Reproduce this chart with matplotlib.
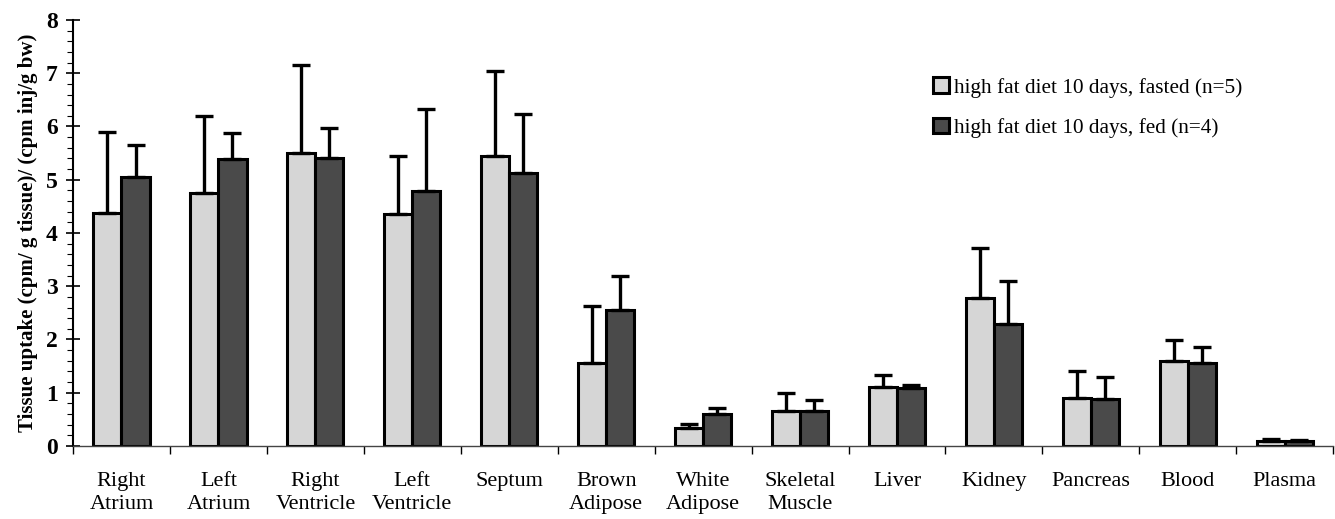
import matplotlib.pyplot as plt
import numpy as np

# --- DATA --------------------------- #
tissues = ["Right\nAtrium", "Left\nAtrium", "Right\nVentricle", "Left\nVentricle", "Septum",
           "Brown\nAdipose", "White\nAdipose", "Skeletal\nMuscle", "Liver", "Kidney",
           "Pancreas", "Blood", "Plasma"]
fasted = [4.38, 4.76, 5.50, 4.35, 5.45, 1.56, 0.33, 0.66, 1.11, 2.77, 0.91, 1.60, 0.10]
fasted_err = [1.52, 1.44, 1.65, 1.10, 1.60, 1.07, 0.09, 0.34, 0.22, 0.94, 0.49, 0.39, 0.03]
fed = [5.05, 5.39, 5.40, 4.79, 5.12, 2.55, 0.60, 0.66, 1.09, 2.30, 0.88, 1.56, 0.10]
fed_err = [0.60, 0.49, 0.57, 1.54, 1.11, 0.64, 0.11, 0.20, 0.06, 0.80, 0.41, 0.29, 0.02]
labels = ["high fat diet 10 days, fasted (n=5)", "high fat diet 10 days, fed (n=4)"]
# ------------------------------------ #

plt.rcParams['font.family'] = ['Liberation Serif', 'DejaVu Serif']

fig = plt.figure(figsize=(13.35, 5.19), dpi=100)
ax = fig.add_axes([0.0547, 0.1407, 0.944, 0.8208])

x = np.arange(len(tissues))
w = 0.29
err_kw = dict(ecolor="black", elinewidth=2.4, capsize=6.5, capthick=2.4)
ax.bar(x - w/2, fasted, w, yerr=[np.zeros(len(x)), fasted_err], color="#d6d6d6",
       edgecolor="black", linewidth=2.2, error_kw=err_kw, label=labels[0], zorder=2)
ax.bar(x + w/2, fed, w, yerr=[np.zeros(len(x)), fed_err], color="#4a4a4a",
       edgecolor="black", linewidth=2.2, error_kw=err_kw, label=labels[1], zorder=2)

# --- AXES --------------------------- #
ax.set_xlim(-0.5, len(tissues) - 0.5)
ax.set_ylim(0, 8)
ax.spines["top"].set_visible(False)
ax.spines["right"].set_visible(False)
ax.spines["left"].set_linewidth(1.5)
ax.spines["bottom"].set_linewidth(1.0)
ax.spines["bottom"].set_color("#444444")

ax.set_xticks(x)
ax.set_xticklabels(tissues, fontsize=16, linespacing=1.25)
ax.tick_params(axis="x", which="major", length=0, pad=19)
ax.set_xticks(np.arange(-0.5, len(tissues), 1.0), minor=True)
ax.tick_params(axis="x", which="minor", length=6, width=1, direction="out")

ax.set_yticks(np.arange(0, 9, 1))
ax.set_yticks(np.arange(0, 8.01, 0.2), minor=True)
ax.tick_params(axis="y", which="major", length=10, width=1.2, direction="inout", labelsize=17, pad=6)
ax.tick_params(axis="y", which="minor", length=4, width=0.8, direction="out")
for t in ax.get_yticklabels():
    t.set_fontweight("bold")
ax.set_ylabel("Tissue uptake (cpm/ g tissue)/ (cpm inj/g bw)", fontsize=15, fontweight="bold", labelpad=6)

ax.legend(loc="upper left", bbox_to_anchor=(0.676, 0.885), frameon=False, fontsize=15.3,
          handlelength=0.75, handleheight=0.75, handletextpad=0.2, labelspacing=0.95,
          borderaxespad=0)

plt.savefig("out.png", dpi=100)
